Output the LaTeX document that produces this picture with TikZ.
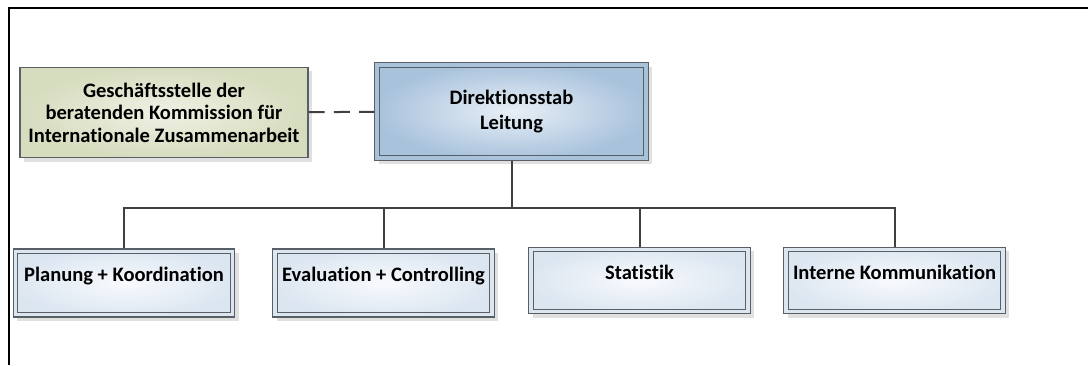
\documentclass[tikz,border=0pt]{standalone}
\usepackage{fontspec}
\setmainfont[Ligatures=NoCommon]{Carlito}
\usetikzlibrary{shadows}
\usepackage{xcolor}
\definecolor{boxline}{HTML}{5A5F66}
\definecolor{connline}{HTML}{404040}
\definecolor{olivein}{HTML}{EFF1E4}
\definecolor{oliveout}{HTML}{D6DCBE}
\definecolor{bluein}{HTML}{E8EFF6}
\definecolor{blueout}{HTML}{A8C2DC}
\definecolor{paleout}{HTML}{DCE6F1}
\definecolor{palein}{HTML}{F8FAFD}

\tikzset{
  orgbox/.style={draw=boxline,line width=0.8pt,align=center,
    font=\bfseries\fontsize{15.4}{16.9}\selectfont,
    drop shadow={shadow xshift=3pt,shadow yshift=-3pt,fill=black!12,opacity=1}},
  doubled/.style={path picture={\draw[boxline,line width=0.8pt]
    ([shift={(3.2pt,-3.2pt)}]path picture bounding box.north west) rectangle
    ([shift={(-3.2pt,3.2pt)}]path picture bounding box.south east);}},
  staffbox/.style={orgbox,inner color=olivein,outer color=oliveout,
    minimum width=216pt,minimum height=68pt},
  leadbox/.style={orgbox,doubled,inner color=bluein,outer color=blueout,
    minimum width=205pt,minimum height=73pt,
    font=\bfseries\fontsize{15.4}{18.75}\selectfont},
  unitbox/.style={orgbox,doubled,inner color=palein,outer color=paleout,
    minimum width=166pt,minimum height=51pt,text height=10pt,text depth=12pt},
  conn/.style={connline,line width=1.5pt},
}

\begin{document}
\begin{tikzpicture}[x=0.75pt,y=-0.75pt]
\useasboundingbox (0,0) rectangle (1088,365);
% frame
\draw[line width=1.5pt] (9,365) -- (9,8) -- (1088,8);

\node[staffbox] (staff) at (164,112.5) {Gesch\"aftsstelle der\\beratenden Kommission f\"ur\\Internationale Zusammenarbeit};
\node[leadbox] (lead) at (511.5,111.5) {Direktionsstab\\Leitung};

\node[unitbox] (plan) at (124,283) {Planung + Koordination};
\node[unitbox] (eval) at (383.5,283) {Evaluation + Controlling};
\node[unitbox,minimum height=50pt] (stat) at (639.5,280.5) {Statistik};
\node[unitbox,minimum height=50pt] (komm) at (894.5,280.5) {Interne Kommunikation};

\coordinate (bus) at (0,208);
\draw[conn,dash pattern=on 12pt off 7pt] (staff) -- (lead);
\foreach \n in {plan,eval,stat,komm}
  \draw[conn] (lead.south) |- (bus -| \n) -- (\n.north);
\end{tikzpicture}
\end{document}
